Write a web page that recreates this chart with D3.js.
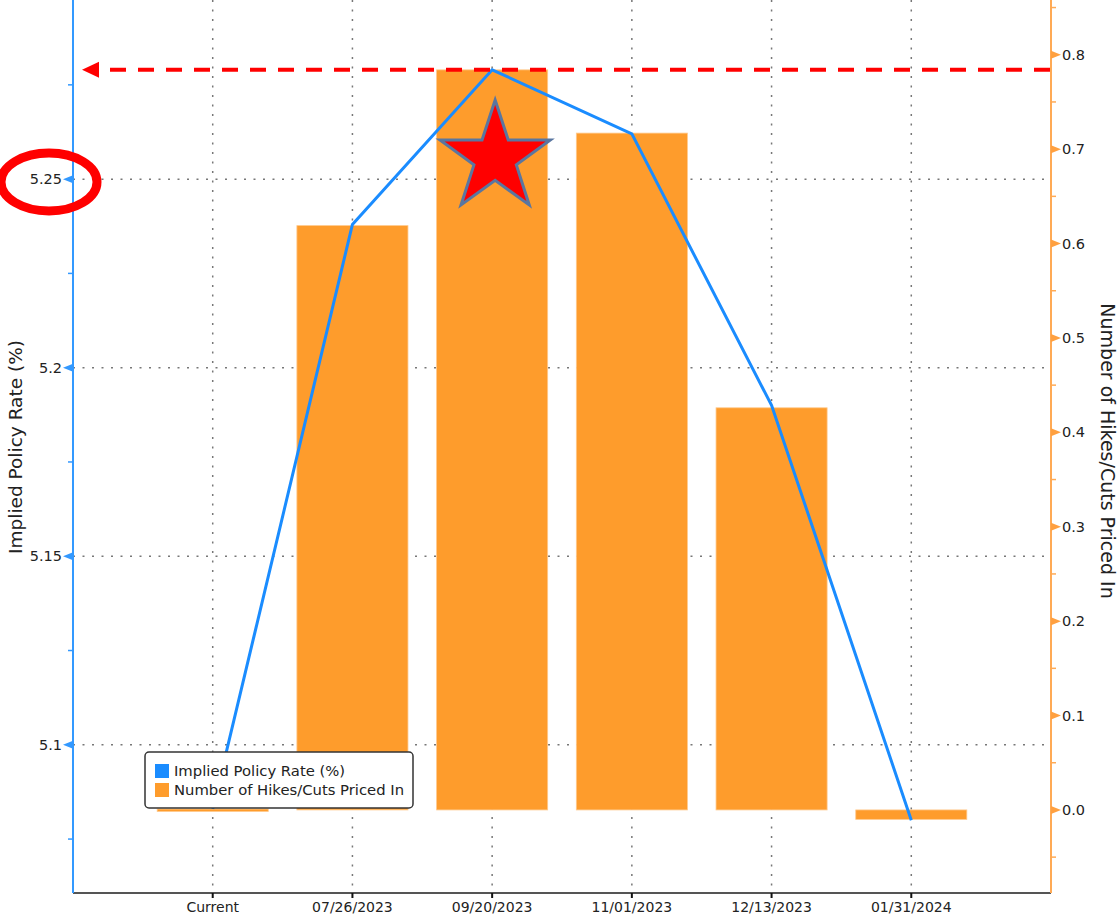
<!DOCTYPE html>
<html lang="en">
  <head>
    <meta charset="UTF-8" />
    <title>Implied Policy Rate</title>
    <script src="https://cdn.jsdelivr.net/npm/d3@7"></script>
    <style>
      body {
        margin: 0;
        padding: 0;
        background: #fff;
      }
      text {
        font-family: 'DejaVu Sans', sans-serif;
      }
    </style>
  </head>

  <body>
    <svg width="1120" height="918"></svg>

    <script>
      var categories = ['Current', '07/26/2023', '09/20/2023', '11/01/2023', '12/13/2023', '01/31/2024']
      var impliedRate = [5.083, 5.238, 5.279, 5.262, 5.19, 5.08]
      var hikesCuts = [0.001, 0.619, 0.784, 0.717, 0.426, -0.01]
      var leftTicks = [5.1, 5.15, 5.2, 5.25]
      var leftMinor = [5.075, 5.125, 5.175, 5.225, 5.275]
      var rightTicks = [0, 0.1, 0.2, 0.3, 0.4, 0.5, 0.6, 0.7, 0.8]
      var rightMinor = [-0.05, 0.05, 0.15, 0.25, 0.35, 0.45, 0.55, 0.65, 0.75, 0.85]

      var plot = { left: 73, right: 1051, top: 0, bottom: 893 }
      var blue = '#1a8cff'
      var orange = '#fe9c2c'

      var svg = d3.select('svg')

      var xScale = d3
        .scalePoint()
        .domain(categories)
        .range([plot.left, plot.right])
        .padding(1)
      var yLeft = d3.scaleLinear().domain([5.0607, 5.2975]).range([plot.bottom, plot.top])
      var yRight = d3.scaleLinear().domain([-0.088, 0.858]).range([plot.bottom, plot.top])
      var barWidth = xScale.step() * 0.795

      // grid
      var grid = svg.append('g').attr('stroke', '#777').attr('stroke-width', 1.5).attr('stroke-dasharray', '2,7.5')
      grid.selectAll('.hg').data(leftTicks).enter().append('line')
        .attr('x1', plot.left).attr('x2', plot.right)
        .attr('y1', d => yLeft(d)).attr('y2', d => yLeft(d))
      grid.selectAll('.vg').data(categories).enter().append('line')
        .attr('x1', d => xScale(d)).attr('x2', d => xScale(d))
        .attr('y1', plot.top).attr('y2', plot.bottom)

      // bars
      svg.append('g').selectAll('rect').data(hikesCuts).enter().append('rect')
        .attr('x', (d, i) => xScale(categories[i]) - barWidth / 2)
        .attr('width', barWidth)
        .attr('y', d => Math.min(yRight(d), yRight(0)))
        .attr('height', d => Math.max(Math.abs(yRight(d) - yRight(0)), 2.5))
        .attr('fill', orange)
        .attr('stroke', '#ffc98c')
        .attr('stroke-width', 0.8)

      // line
      var line = d3.line()
        .x((d, i) => xScale(categories[i]))
        .y(d => yLeft(d))
      svg.append('path').datum(impliedRate)
        .attr('d', line)
        .attr('fill', 'none')
        .attr('stroke', blue)
        .attr('stroke-width', 3)

      // bottom axis
      var xAxis = svg.append('g')
      xAxis.append('line')
        .attr('x1', plot.left).attr('x2', plot.right)
        .attr('y1', plot.bottom).attr('y2', plot.bottom)
        .attr('stroke', '#555').attr('stroke-width', 2)
      xAxis.selectAll('.tk').data(categories).enter().append('line')
        .attr('x1', d => xScale(d)).attr('x2', d => xScale(d))
        .attr('y1', plot.bottom).attr('y2', plot.bottom + 5)
        .attr('stroke', '#111').attr('stroke-width', 2)
      xAxis.selectAll('text').data(categories).enter().append('text')
        .attr('x', d => xScale(d))
        .attr('y', plot.bottom + 19)
        .attr('text-anchor', 'middle')
        .attr('font-size', 14)
        .attr('fill', '#222')
        .text(d => d)

      // left axis
      var la = svg.append('g')
      la.append('line')
        .attr('x1', plot.left).attr('x2', plot.left)
        .attr('y1', plot.top).attr('y2', plot.bottom)
        .attr('stroke', '#3399ff').attr('stroke-width', 2)
      la.selectAll('.mn').data(leftMinor).enter().append('line')
        .attr('x1', plot.left - 5).attr('x2', plot.left)
        .attr('y1', d => yLeft(d)).attr('y2', d => yLeft(d))
        .attr('stroke', '#3399ff').attr('stroke-width', 1.5)
      la.selectAll('path').data(leftTicks).enter().append('path')
        .attr('d', d => `M${plot.left},${yLeft(d) - 4}L${plot.left - 10},${yLeft(d)}L${plot.left},${yLeft(d) + 4}Z`)
        .attr('fill', '#3399ff')
      la.selectAll('text').data(leftTicks).enter().append('text')
        .attr('x', plot.left - 11)
        .attr('y', d => yLeft(d))
        .attr('dy', '0.35em')
        .attr('text-anchor', 'end')
        .attr('font-size', 14.5)
        .attr('fill', '#222')
        .text(d => String(+d.toFixed(2)))
      svg.append('text')
        .attr('transform', 'translate(22,447) rotate(-90)')
        .attr('text-anchor', 'middle')
        .attr('font-size', 18.5)
        .attr('fill', '#222')
        .text('Implied Policy Rate (%)')

      // right axis
      var ra = svg.append('g')
      ra.append('line')
        .attr('x1', plot.right).attr('x2', plot.right)
        .attr('y1', plot.top).attr('y2', plot.bottom)
        .attr('stroke', '#ffaa55').attr('stroke-width', 2)
      ra.selectAll('.mn').data(rightMinor).enter().append('line')
        .attr('x1', plot.right).attr('x2', plot.right + 5)
        .attr('y1', d => yRight(d)).attr('y2', d => yRight(d))
        .attr('stroke', '#ffaa55').attr('stroke-width', 1.5)
      ra.selectAll('path').data(rightTicks).enter().append('path')
        .attr('d', d => `M${plot.right},${yRight(d) - 4}L${plot.right + 10},${yRight(d)}L${plot.right},${yRight(d) + 4}Z`)
        .attr('fill', '#ffa040')
      ra.selectAll('text').data(rightTicks).enter().append('text')
        .attr('x', plot.right + 11)
        .attr('y', d => yRight(d))
        .attr('dy', '0.35em')
        .attr('font-size', 14.5)
        .attr('fill', '#222')
        .text(d => d3.format('.1f')(d))
      svg.append('text')
        .attr('transform', 'translate(1101,451) rotate(90)')
        .attr('text-anchor', 'middle')
        .attr('font-size', 19)
        .attr('fill', '#222')
        .text('Number of Hikes/Cuts Priced In')

      // legend
      var lg = svg.append('g').attr('transform', 'translate(145,752)')
      lg.append('rect')
        .attr('width', 268).attr('height', 56).attr('rx', 4)
        .attr('fill', '#fff').attr('stroke', '#333').attr('stroke-width', 1.5)
      var legendItems = [
        { name: 'Implied Policy Rate (%)', color: blue },
        { name: 'Number of Hikes/Cuts Priced In', color: orange },
      ]
      var li = lg.selectAll('.li').data(legendItems).enter().append('g')
        .attr('transform', (d, i) => `translate(10,${12 + i * 19})`)
      li.append('rect').attr('width', 14).attr('height', 14).attr('fill', d => d.color)
      li.append('text')
        .attr('x', 19).attr('y', 12)
        .attr('font-size', 14.8)
        .attr('fill', '#222')
        .text(d => d.name)

      // annotation: dashed arrow at the peak
      var peakY = yRight(hikesCuts[2])
      svg.append('line')
        .attr('x1', 104).attr('x2', 1062)
        .attr('y1', peakY).attr('y2', peakY)
        .attr('stroke', '#ff0000').attr('stroke-width', 4)
        .attr('stroke-dasharray', '16,12')
        .attr('stroke-dashoffset', -6)
      svg.append('path')
        .attr('d', `M82,${peakY}L99,${peakY - 8}L99,${peakY + 8}Z`)
        .attr('fill', '#ff0000')

      // star
      var cx = xScale(categories[2]) + 3
      var cy = 158
      var pts = d3.range(10).map(i => {
        var r = i % 2 === 0 ? 58 : 22.3
        var a = -Math.PI / 2 + (i * Math.PI) / 5
        return [cx + r * Math.cos(a), cy + r * Math.sin(a)]
      })
      svg.append('polygon')
        .attr('points', pts.map(p => p.join(',')).join(' '))
        .attr('fill', '#ff0000')
        .attr('stroke', '#5a76a0')
        .attr('stroke-width', 3)
        .attr('stroke-linejoin', 'miter')

      // circle around 5.25
      svg.append('ellipse')
        .attr('cx', 49).attr('cy', 182)
        .attr('rx', 48).attr('ry', 29)
        .attr('fill', 'none')
        .attr('stroke', '#ff0000')
        .attr('stroke-width', 9)
    </script>
  </body>
</html>
